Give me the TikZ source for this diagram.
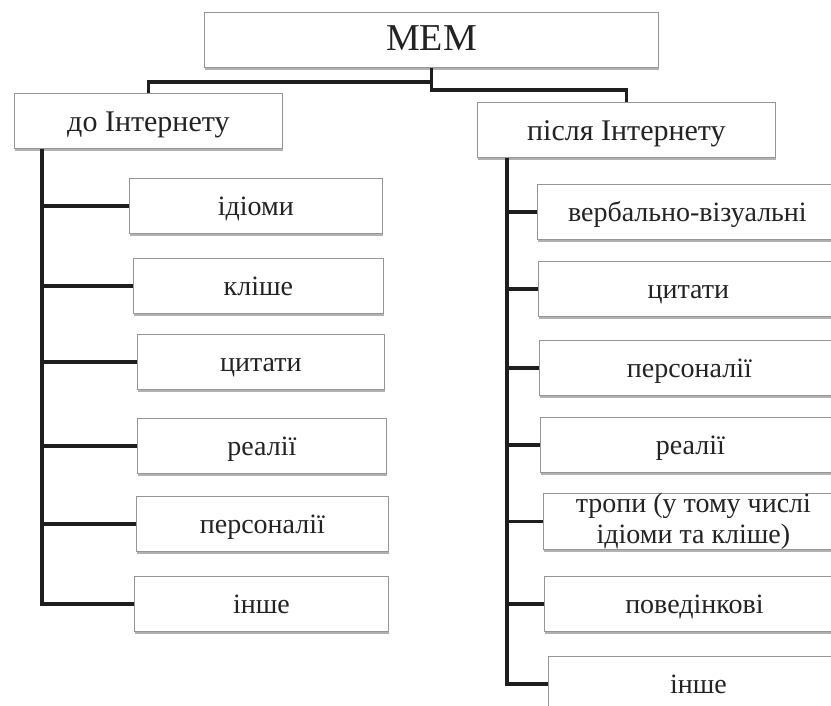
\documentclass[tikz,border=0pt]{standalone}
\usepackage{fontspec}
\setmainfont{Liberation Serif}
\usepackage{tikz}
\usetikzlibrary{shadows}

\definecolor{boxgray}{RGB}{150,150,150}
\definecolor{linecol}{RGB}{30,30,30}
\definecolor{txtcol}{RGB}{35,35,35}

\begin{document}
\begin{tikzpicture}[x=1pt,y=-1pt,box/.style={rectangle,draw=boxgray,fill=white,line width=0.8pt,inner sep=2pt,minimum height=55pt,anchor=north west,text=txtcol,font=\fontsize{28}{31}\selectfont,text height=21pt,text depth=2pt,drop shadow={shadow xshift=1pt,shadow yshift=-2.5pt,fill=black,opacity=0.3}},headbox/.style={box,font=\fontsize{30}{33}\selectfont,text height=23pt},link/.style={line width=3.5pt,draw=linecol}]
	
	\useasboundingbox (0,0) rectangle (831,706);
	\clip (0,0) rectangle (831,706);
	
	\node [box,minimum width=454pt,font=\fontsize{38}{42}\selectfont,text height=24pt,text depth=3pt] (mem) at (204,12) {МЕМ};
	\node [headbox,minimum width=268pt] (pre) at (14,93) {до Інтернету};
	\node [headbox,minimum width=298pt] (post) at (477,102) {після Інтернету};
	
	% до Інтернету
	\node [box,minimum width=253pt] (idiomy) at (129,178) {ідіоми};
	\node [box,minimum width=250pt] (klishe) at (133,258) {кліше};
	\node [box,minimum width=247pt] (tsytaty) at (137,334) {цитати};
	\node [box,minimum width=249pt] (realii) at (137,418) {реалії};
	\node [box,minimum width=252pt] (personalii) at (136,496) {персоналії};
	\node [box,minimum width=254pt] (inshe) at (134,576) {інше};
	
	% після Інтернету
	\node [box,minimum width=300pt] (verbal) at (537,184) {вербально-візуальні};
	\node [box,minimum width=300pt] (tsytaty2) at (538,261) {цитати};
	\node [box,minimum width=300pt] (personalii2) at (539,340) {персоналії};
	\node [box,minimum width=300pt] (realii2) at (540,417) {реалії};
	\node [box,minimum width=300pt,align=center,inner sep=0pt,text height=,text depth=] (tropy) at (543,493) {тропи (у тому числі\\ідіоми та кліше)};
	\node [box,minimum width=300pt] (povedinkovi) at (544,576) {поведінкові};
	\node [box,minimum width=300pt] (inshe2) at (548,656) {інше};
	
	\coordinate (trunkL) at ([xshift=28pt]pre.south west);
	\coordinate (trunkR) at ([xshift=30pt]post.south west);
	
	\draw [link] (mem.south) -- ++(0,14) -| (pre.north);
	\draw [link] (mem.south) -- ++(0,22) -| (post.north);
	
	\draw [link] (trunkL) |- (idiomy.west);
	\draw [link] (trunkL) |- (klishe.west);
	\draw [link] (trunkL) |- (tsytaty.west);
	\draw [link] (trunkL) |- (realii.west);
	\draw [link] (trunkL) |- (personalii.west);
	\draw [link] (trunkL) |- (inshe.west);
	
	\draw [link] (trunkR) |- (verbal.west);
	\draw [link] (trunkR) |- (tsytaty2.west);
	\draw [link] (trunkR) |- (personalii2.west);
	\draw [link] (trunkR) |- (realii2.west);
	\draw [link] (trunkR) |- (tropy.west);
	\draw [link] (trunkR) |- (povedinkovi.west);
	\draw [link] (trunkR) |- (inshe2.west);
\end{tikzpicture}
\end{document}
